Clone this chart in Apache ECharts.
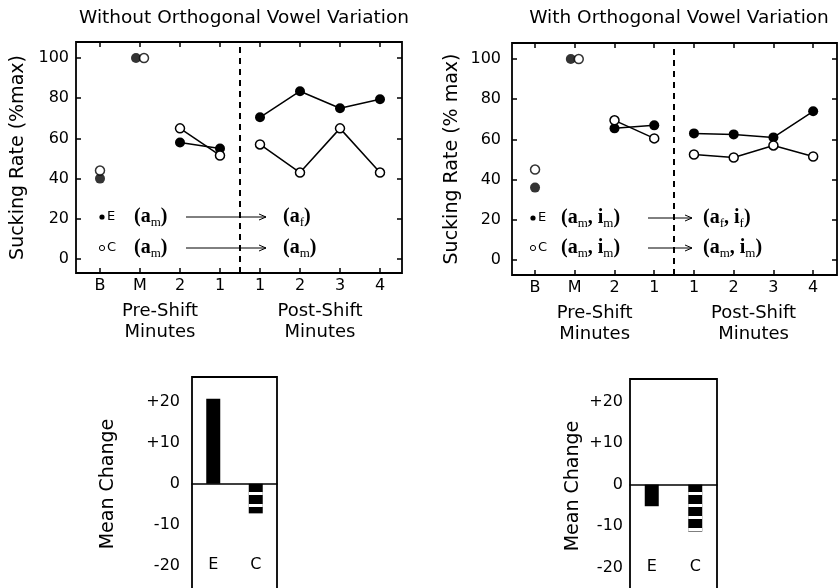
<!DOCTYPE html>
<html>
<head>
<meta charset="utf-8">
<script src="https://cdn.jsdelivr.net/npm/echarts@6/dist/echarts.min.js"></script>
<style>
html, body { margin: 0; padding: 0; background: #fff; }
#main { width: 840px; height: 588px; }
</style>
</head>
<body>
<div id="main"></div>
<script>
var FONT = 'DejaVu Sans';
var SERIF = 'Liberation Serif';

// x positions 0..7 : B, M, pre-shift 2, 1, post-shift 1..4
var catLabels = ['B', 'M', '2', '1', '1', '2', '3', '4'];
var catPos = [0, 1, 2, 3, 4, 5, 6, 7];
var yTicks = [0, 20, 40, 60, 80, 100];

// sucking rate (%max), E = experimental (filled), C = control (open)
var withoutE = [40, 100, 58, 55, 70.5, 83.5, 75, 79.5];
var withoutC = [44, 100, 65, 51.5, 57, 43, 65, 43];
var withE = [36, 100, 65.5, 67, 63, 62.5, 61, 74];
var withC = [45, 100, 69.5, 60.5, 52.5, 51, 57, 51.5];

// mean change bars
var barCats = ['E', 'C'];
var changeWithout = [20.7, -7.2];
var changeWith = [-5.2, -11.3];
var changeTicks = [-20, -10, 0, 10, 20];

var chart = echarts.init(document.getElementById('main'));

var tickStyle = { color: '#000', width: 1.5 };

function pts(vals, idx, shift) {
    return idx.map(function (i) { return [catPos[i] + (shift || 0), vals[i]]; });
}

function rateX(grid, min, max, top) {
    return {
        type: 'value', gridIndex: grid, min: min, max: max,
        position: top ? 'top' : 'bottom',
        axisLine: { show: false, onZero: false },
        splitLine: { show: false },
        axisTick: { inside: true, length: 5, customValues: catPos, lineStyle: tickStyle },
        axisLabel: top ? { show: false } : {
            customValues: catPos, margin: 5, color: '#000', fontSize: 16, fontFamily: FONT,
            formatter: function (v) { return catLabels[Math.round(v)]; }
        }
    };
}

function rateY(grid, min, max, right, name, gap, margin) {
    var ax = {
        type: 'value', gridIndex: grid, min: min, max: max,
        position: right ? 'right' : 'left',
        axisLine: { show: false, onZero: false },
        splitLine: { show: false },
        axisTick: { inside: true, length: 5, customValues: yTicks, lineStyle: tickStyle },
        axisLabel: right ? { show: false } : {
            customValues: yTicks, margin: margin, color: '#000', fontSize: 16, fontFamily: FONT
        }
    };
    if (!right) {
        ax.name = name;
        ax.nameLocation = 'middle';
        ax.nameGap = gap;
        ax.nameTextStyle = { color: '#000', fontSize: 19, fontFamily: FONT };
    }
    return ax;
}

function changeY(grid, max, gap, margin) {
    return {
        type: 'value', gridIndex: grid, min: -30, max: max,
        axisLine: { show: false, onZero: false }, axisTick: { show: false }, splitLine: { show: false },
        axisLabel: {
            customValues: changeTicks, margin: margin, color: '#000', fontSize: 16, fontFamily: FONT,
            formatter: function (v) { return v > 0 ? '+' + v : String(v); }
        },
        name: 'Mean Change', nameLocation: 'middle', nameGap: gap,
        nameTextStyle: { color: '#000', fontSize: 19, fontFamily: FONT, padding: [0, 0, 0, 16] }
    };
}

function changeX(grid) {
    return {
        type: 'category', gridIndex: grid, data: barCats,
        axisLine: { onZero: true, lineStyle: tickStyle },
        axisTick: { show: false },
        axisLabel: { show: false }
    };
}

var filledStyle = { color: '#000' };
var openStyle = { color: '#fff', borderColor: '#000', borderWidth: 1.5 };

function panelSeries(E, C, ax) {
    var out = [];
    [[E, filledStyle, 10, -0.1], [C, openStyle, 9, 0.1]].forEach(function (g) {
        var vals = g[0];
        // B and M stand alone, the two M points sit side by side
        out.push({
            type: 'scatter', xAxisIndex: ax, yAxisIndex: ax,
            data: [[catPos[0], vals[0]], [catPos[1] + g[3], vals[1]]],
            symbol: 'circle', symbolSize: g[2], itemStyle: g[1]
        });
        [[2, 3], [4, 5, 6, 7]].forEach(function (seg) {
            out.push({
                type: 'line', xAxisIndex: ax, yAxisIndex: ax,
                data: pts(vals, seg),
                symbol: 'circle', symbolSize: g[2], showSymbol: true,
                itemStyle: g[1], lineStyle: { color: '#000', width: 1.5 }
            });
        });
    });
    out[0].markLine = {
        silent: true, symbol: 'none', label: { show: false },
        lineStyle: { color: '#000', width: 2, type: [6, 5] },
        data: [{ xAxis: 3.5 }]
    };
    return out;
}

var stripes = {
    symbol: 'rect', symbolSize: 1, symbolKeepAspect: false, color: '#fff',
    dashArrayX: [1, 0], dashArrayY: [3, 9]
};

function barSeries(vals, ax) {
    return {
        type: 'bar', xAxisIndex: ax, yAxisIndex: ax, barWidth: 14,
        itemStyle: { color: '#000' },
        data: vals.map(function (v, i) {
            return barCats[i] === 'C' ? { value: v, itemStyle: { decal: stripes } } : v;
        })
    };
}

var frame = { show: true, borderColor: '#000', borderWidth: 1.8, backgroundColor: 'transparent', outerBoundsMode: 'none', containLabel: false };

var option = {
    animation: false,
    backgroundColor: '#fff',
    grid: [
        Object.assign({ left: 76, top: 42, width: 326, height: 231 }, frame),
        Object.assign({ left: 512, top: 43, width: 325, height: 232 }, frame),
        Object.assign({ left: 192, top: 377, width: 85, height: 230 }, frame),
        Object.assign({ left: 630, top: 379, width: 87, height: 230 }, frame)
    ],
    xAxis: [
        rateX(0, -0.6, 7.55, false),
        rateX(0, -0.6, 7.55, true),
        rateX(1, -0.58, 7.6, false),
        rateX(1, -0.58, 7.6, true),
        changeX(2),
        changeX(3)
    ],
    yAxis: [
        rateY(0, -7, 108, false, 'Sucking Rate (%max)', 48, 7),
        rateY(0, -7, 108, true),
        rateY(1, -7.5, 108, false, 'Sucking Rate (% max)', 50, 11),
        rateY(1, -7.5, 108, true),
        changeY(2, 26, 74, 12),
        changeY(3, 25.5, 47, 7)
    ],
    series: [].concat(
        panelSeries(withoutE, withoutC, 0),
        panelSeries(withE, withC, 2),
        [barSeries(changeWithout, 4), barSeries(changeWith, 5)]
    )
};
chart.setOption(option);

// titles, group labels and the little in-plot legends
var richP = { fontFamily: SERIF, fontWeight: 'bold', fontSize: 20, lineHeight: 24, color: '#000' };
var richS = { fontFamily: SERIF, fontSize: 13, lineHeight: 14, verticalAlign: 'bottom', color: '#000' };

function text(x, y, s, size, align) {
    return {
        type: 'text', x: x, y: y, silent: true,
        style: { text: s, fill: '#000', font: size + 'px "' + FONT + '"', align: align || 'center', verticalAlign: 'middle', lineHeight: 21 }
    };
}
function rich(x, y, s) {
    return {
        type: 'text', x: x, y: y, silent: true,
        style: { text: s, rich: { p: richP, s: richS }, align: 'left', verticalAlign: 'middle' }
    };
}
function arrow(x1, x2, y) {
    return {
        type: 'group', silent: true, children: [
            { type: 'line', shape: { x1: x1, y1: y, x2: x2, y2: y }, style: { stroke: '#000', lineWidth: 1 } },
            { type: 'polyline', shape: { points: [[x2 - 7, y - 3], [x2, y], [x2 - 7, y + 3]] }, style: { stroke: '#000', lineWidth: 1, fill: null } }
        ]
    };
}
function dot(x, y, filled) {
    return {
        type: 'circle', silent: true, shape: { cx: x, cy: y, r: 2.6 },
        style: filled ? { fill: '#000' } : { fill: '#fff', stroke: '#000', lineWidth: 1 }
    };
}

function groupLabels(ax, y) {
    var pre = chart.convertToPixel({ xAxisIndex: ax }, (catPos[0] + catPos[3]) / 2);
    var post = chart.convertToPixel({ xAxisIndex: ax }, (catPos[4] + catPos[7]) / 2);
    return [
        text(pre, y, 'Pre-Shift\nMinutes', 18),
        text(post, y, 'Post-Shift\nMinutes', 18)
    ];
}

// E / C names sit low in the bar panels, level with the -20 tick
function barNames(ax) {
    var y = chart.convertToPixel({ yAxisIndex: ax }, -20) - 1;
    return barCats.map(function (c) {
        return text(chart.convertToPixel({ xAxisIndex: ax }, c), y, c, 16);
    });
}

var graphic = [
    text(244, 18, 'Without Orthogonal Vowel Variation', 18.5),
    text(679, 18, 'With Orthogonal Vowel Variation', 18.5),

    dot(102, 217, true), text(107, 217, 'E', 13, 'left'),
    rich(134, 217, '{p|(a}{s|m}{p|)}'),
    arrow(186, 266, 217),
    rich(283, 217, '{p|(a}{s|f}{p|)}'),
    dot(102, 248, false), text(107, 248, 'C', 13, 'left'),
    rich(134, 248, '{p|(a}{s|m}{p|)}'),
    arrow(186, 266, 248),
    rich(283, 248, '{p|(a}{s|m}{p|)}'),

    dot(533, 218, true), text(538, 218, 'E', 13, 'left'),
    rich(561, 218, '{p|(a}{s|m}{p|, i}{s|m}{p|)}'),
    arrow(648, 692, 218),
    rich(703, 218, '{p|(a}{s|f}{p|, i}{s|f}{p|)}'),
    dot(533, 248, false), text(538, 248, 'C', 13, 'left'),
    rich(561, 248, '{p|(a}{s|m}{p|, i}{s|m}{p|)}'),
    arrow(648, 692, 248),
    rich(703, 248, '{p|(a}{s|m}{p|, i}{s|m}{p|)}')
].concat(groupLabels(0, 322), groupLabels(2, 324), barNames(4), barNames(5));

chart.setOption({ graphic: graphic });
</script>
</body>
</html>
